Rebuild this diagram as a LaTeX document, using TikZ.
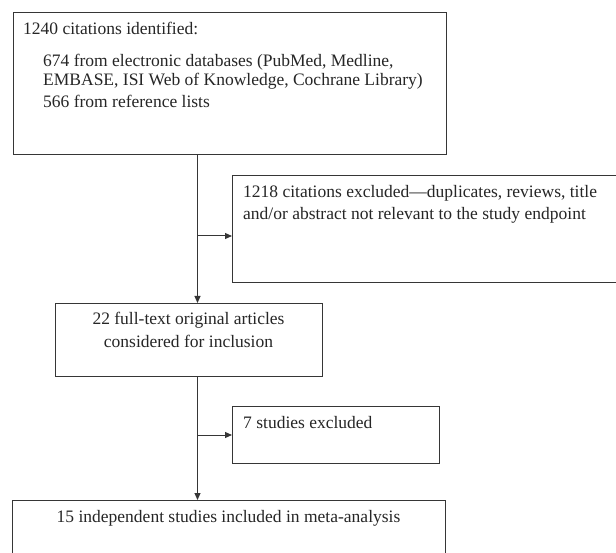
\documentclass[tikz,border=0pt]{standalone}
\usepackage{fontspec}
\setmainfont{Liberation Serif}
\usetikzlibrary{arrows.meta,calc}
\definecolor{ink}{HTML}{262626}
\definecolor{linec}{HTML}{363636}
\newcommand{\tightlines}[2]{\vtop{\baselineskip=19pt\lineskiplimit=-100pt\lineskip=0pt\hbox{#1}\hbox{#2}}}
\begin{document}
\begin{tikzpicture}[x=1pt,y=-1pt,
  box/.style={draw=linec,line width=1pt,inner sep=0pt,anchor=north west},
  txt/.style={inner sep=0pt,text=ink,font=\fontsize{17.5}{22}\selectfont},
  lt/.style={txt,anchor=base west},
  ct/.style={txt,anchor=base},
  arr/.style={draw=linec,line width=1pt,-{Triangle[length=7pt,width=6pt]}}]
\useasboundingbox (0,0) rectangle (616,553);
\clip (0,0) rectangle (616,553);
\fill[white] (0,0) rectangle (616,553);
% boxes
\node[box,minimum width=433pt,minimum height=142pt] (b1) at (13,12) {};
\node[box,minimum width=390pt,minimum height=107pt] (e1) at (232,175) {};
\node[box,minimum width=267pt,minimum height=73pt] (b2) at (55,303) {};
\node[box,minimum width=207pt,minimum height=57pt] (e2) at (232,406) {};
\node[box,minimum width=433pt,minimum height=70pt] (b3) at (12,500) {};
% texts
\node[lt] (t1a) at (23,35) {1240 citations identified:};
\node[lt] (t1b) at (43,67) {\tightlines{674 from electronic databases (PubMed, Medline,}{EMBASE, ISI Web of Knowledge, Cochrane Library)}};
\node[lt] (t1d) at (43,108) {566 from reference lists};
\node[lt] (te1a) at (243,198) {1218 citations excluded—duplicates, reviews, title};
\node[lt] (te1b) at (243,220) {and/or abstract not relevant to the study endpoint};
\node[ct] (t2a) at (188.5,325) {22 full-text original articles};
\node[ct] (t2b) at (188.5,348) {considered for inclusion};
\node[lt] (te2) at (243,428) {7 studies excluded};
\node[ct] (t3) at (228.5,522) {15 independent studies included in meta-analysis};
% connectors
\coordinate (spine) at (197.5,0);
\coordinate (j1) at (197.5,236);
\draw[arr] (spine |- b1.south) -- (spine |- b2.north);
\draw[arr] (j1) -- (j1 -| e1.west);
\draw[arr] (spine |- b2.south) -- (spine |- b3.north);
\draw[arr] (spine |- e2.west) -- (e2.west);
\end{tikzpicture}
\end{document}
